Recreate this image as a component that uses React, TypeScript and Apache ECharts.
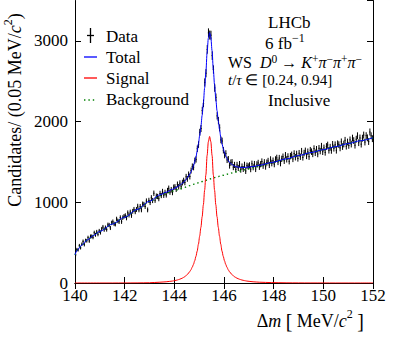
import React, { useEffect, useRef } from 'react';
import * as echarts from 'echarts';

const FONT = 'Liberation Serif';

// Histogram: bin width 0.05 MeV, first bin centre 140.025
const binStart = 140.025;
const binWidth = 0.05;
const dataCounts = [
  350, 415, 410, 463, 436, 480, 516, 475, 526, 523, 562, 521, 577, 578, 566, 623, 597, 633, 603, 645,
  625, 669, 693, 660, 686, 662, 721, 718, 682, 744, 759, 732, 728, 793, 769, 759, 810, 760, 810, 826,
  835, 805, 870, 841, 879, 836, 888, 912, 882, 911, 951, 906, 948, 906, 978, 974, 948, 1016, 906, 1024,
  997, 1056, 1022, 1112, 1025, 1076, 1072, 1045, 1109, 1084, 1133, 1087, 1122, 1091, 1145, 1173, 1126, 1156, 1121, 1186,
  1190, 1162, 1222, 1192, 1237, 1193, 1244, 1269, 1246, 1316, 1290, 1345, 1319, 1393, 1443, 1434, 1515, 1531, 1663, 1715,
  1867, 1914, 2137, 2225, 2485, 2599, 2894, 3099, 3072, 3070, 2817, 2645, 2418, 2300, 2071, 2012, 1922, 1773, 1759, 1645,
  1585, 1605, 1525, 1534, 1455, 1492, 1497, 1436, 1463, 1408, 1463, 1425, 1473, 1404, 1443, 1413, 1464, 1388, 1454, 1444,
  1458, 1410, 1478, 1434, 1474, 1412, 1470, 1488, 1439, 1472, 1505, 1452, 1496, 1442, 1492, 1512, 1462, 1531, 1484, 1516,
  1472, 1531, 1550, 1499, 1548, 1484, 1538, 1565, 1514, 1583, 1532, 1568, 1508, 1572, 1588, 1537, 1604, 1558, 1599, 1543,
  1608, 1564, 1633, 1556, 1610, 1637, 1574, 1626, 1565, 1645, 1627, 1599, 1665, 1613, 1657, 1598, 1669, 1635, 1695, 1626,
  1674, 1618, 1692, 1710, 1644, 1683, 1642, 1718, 1669, 1713, 1644, 1725, 1714, 1673, 1749, 1690, 1722, 1768, 1694, 1747,
  1704, 1773, 1721, 1795, 1764, 1707, 1781, 1824, 1738, 1797, 1720, 1794, 1833, 1746, 1825, 1798, 1752, 1871, 1824, 1788,
];

// Fit model
const curveX = [
  140.0, 140.1, 140.25, 140.5, 140.75, 141.0, 141.5, 142.0, 142.5, 143.0, 143.42, 143.67, 143.92,
  144.02, 144.12, 144.22, 144.32, 144.42, 144.52, 144.62, 144.67, 144.72, 144.77, 144.82, 144.87,
  144.92, 144.97, 145.02, 145.07, 145.12, 145.17, 145.22, 145.27, 145.32, 145.37, 145.42, 145.47,
  145.52, 145.57, 145.62, 145.67, 145.72, 145.77, 145.82, 145.87, 145.92, 145.97, 146.02, 146.07,
  146.12, 146.17, 146.22, 146.32, 146.42, 146.52, 146.62, 146.72, 146.82, 146.92, 147.17, 147.42,
  147.92, 148.5, 149.0, 149.5, 150.0, 150.5, 151.0, 151.5, 152.0,
];
const signalY = [
  0, 0, 0, 0, 0, 0, 0, 0.5, 1, 3, 10, 15, 24,
  30, 37, 47, 60, 78, 105, 140, 165, 195, 230, 275, 330,
  395, 480, 580, 690, 820, 970, 1150, 1340, 1580, 1750, 1815, 1750,
  1580, 1340, 1150, 970, 820, 690, 580, 480, 395, 330, 275, 230,
  195, 165, 140, 105, 78, 60, 47, 37, 30, 24, 15, 10,
  5, 2, 1, 0.5, 0.3, 0, 0, 0, 0,
];
const backgroundY = [
  350, 410, 465, 535, 590, 640, 730, 815, 910, 1010, 1082, 1110, 1136,
  1145, 1155, 1165, 1175, 1185, 1197, 1207, 1212, 1217, 1222, 1227, 1232,
  1237, 1242, 1247, 1252, 1257, 1262, 1267, 1272, 1277, 1282, 1287, 1292,
  1297, 1302, 1306, 1310, 1314, 1318, 1322, 1326, 1330, 1335, 1340, 1344,
  1348, 1352, 1356, 1363, 1371, 1379, 1387, 1394, 1402, 1410, 1428, 1448,
  1488, 1535, 1578, 1615, 1652, 1690, 1727, 1763, 1800,
];

const xTicks = { min: 140, max: 152, interval: 2 };
const yTicks = { min: 0, max: 3500, interval: 1000 };

const legendLabels = ['Data', 'Total', 'Signal', 'Background'];
const COLORS = { data: '#000000', total: '#0000ff', signal: '#ff0000', background: '#008000' };

export default function App() {
  const ref = useRef<HTMLDivElement>(null);

  useEffect(() => {
    if (!ref.current) return;
    const chart = echarts.init(ref.current, undefined, { renderer: 'svg' });

    const dataPoints = dataCounts.map((c, i) => [binStart + i * binWidth, c, Math.sqrt(c)]);
    const sig = curveX.map((x, i) => [x, signalY[i]]);
    const bkg = curveX.map((x, i) => [x, backgroundY[i]]);
    const tot = curveX.map((x, i) => [x, signalY[i] + backgroundY[i]]);

    const mkRich = (size: number, supSize: number, lh: number) => ({
      n: { fontFamily: FONT, fontSize: size, lineHeight: lh, fill: '#000', color: '#000' },
      i: { fontFamily: FONT, fontSize: size, fontStyle: 'italic', lineHeight: lh, fill: '#000', color: '#000' },
      s: { fontFamily: FONT, fontSize: supSize, lineHeight: supSize, verticalAlign: 'top', fill: '#000', color: '#000' },
      b: { fontFamily: FONT, fontSize: size + 2, lineHeight: lh, fill: '#000', color: '#000' },
    });
    const rich17 = mkRich(17, 12, 17);
    const rich17s = mkRich(17, 12, 22);
    const rich18 = mkRich(18, 12, 26);
    const rich16 = mkRich(16, 11.5, 18);
    const rich15 = mkRich(15, 11, 17);

    const txt = (x: number, y: number, text: string, rich: any, align = 'left', extra: any = {}) => ({
      type: 'text',
      x,
      y,
      z: 100,
      ...extra,
      style: {
        fontFamily: FONT,
        fontSize: 17,
        fill: '#000',
        text,
        rich,
        align,
        textAlign: align,
        verticalAlign: 'middle',
        textVerticalAlign: 'middle',
      },
    });

    const legendY = [36, 57, 78, 99];

    const graphic: any[] = [
      // legend symbols
      { type: 'line', z: 100, shape: { x1: 90.5, y1: 28, x2: 90.5, y2: 43 }, style: { stroke: COLORS.data, lineWidth: 1.3 } },
      { type: 'line', z: 100, shape: { x1: 87, y1: 35.5, x2: 94, y2: 35.5 }, style: { stroke: COLORS.data, lineWidth: 1.3 } },
      { type: 'line', z: 100, shape: { x1: 84, y1: 57, x2: 97, y2: 57 }, style: { stroke: COLORS.total, lineWidth: 1.3 } },
      { type: 'line', z: 100, shape: { x1: 84, y1: 78, x2: 97, y2: 78 }, style: { stroke: COLORS.signal, lineWidth: 1.3 } },
      { type: 'line', z: 100, shape: { x1: 84, y1: 100, x2: 97, y2: 100 }, style: { stroke: COLORS.background, lineWidth: 1.4, lineDash: [1.4, 3] } },
      ...legendLabels.map((l, i) => txt(106, legendY[i], `{n|${l}}`, rich17)),
      // annotations
      txt(268, 22, '{n|LHCb}', rich17),
      txt(265, 43, '{n|6 fb}{s|−1}', rich17s),
      txt(228, 62, '{n|WS  }{i|D}{s|0}{n| → }{i|K}{s|+}{i|π}{s|−}{i|π}{s|+}{i|π}{s|−}', rich16),
      txt(228, 80, '{i|t}{n|/}{i|τ}{n| ∈ [0.24, 0.94]}', rich15),
      txt(268, 100, '{n|Inclusive}', rich17),
      // axis titles
      txt(364, 321, '{n|Δ}{i|m}{n| }{b|[}{n| MeV/}{i|c}{s|2}{n| }{b|]}', rich18, 'right'),
      txt(15, 110, '{n|Candidates/ (0.05 MeV/}{i|c}{s|2}{n|)}', rich18, 'center', { rotation: Math.PI / 2 }),
    ];

    const axisLine = { show: true, lineStyle: { color: '#000', width: 1 } };
    const axisTick = { show: true, inside: true, length: 6, lineStyle: { color: '#000', width: 1 } };
    const labelRich = { t: { fontFamily: FONT, fontSize: 17, color: '#000', lineHeight: 14 } };

    chart.setOption({
      animation: false,
      backgroundColor: '#ffffff',
      textStyle: { fontFamily: FONT, fontSize: 17, color: '#000' },
      grid: { left: 75, right: 20, top: 0.5, bottom: 56, containLabel: false },
      xAxis: [
        {
          type: 'value',
          position: 'bottom',
          ...xTicks,
          axisLine,
          axisTick,
          splitLine: { show: false },
          axisLabel: {
            color: '#000', fontFamily: FONT, fontSize: 17, margin: 5,
            formatter: (v: number) => `{t|${v}}`,
            rich: labelRich,
          },
        },
        {
          type: 'value',
          position: 'top',
          ...xTicks,
          axisLine,
          axisTick,
          splitLine: { show: false },
          axisLabel: { show: false },
        },
      ],
      yAxis: [
        {
          type: 'value',
          position: 'left',
          ...yTicks,
          axisLine,
          axisTick,
          splitLine: { show: false },
          axisLabel: {
            color: '#000', fontFamily: FONT, fontSize: 17, margin: 7, showMaxLabel: false,
            formatter: (v: number) => `{t|${v}}`,
            rich: labelRich,
          },
        },
        {
          type: 'value',
          position: 'right',
          ...yTicks,
          axisLine,
          axisTick,
          splitLine: { show: false },
          axisLabel: { show: false },
        },
      ],
      series: [
        {
          type: 'custom',
          name: 'Data',
          xAxisIndex: 0,
          yAxisIndex: 0,
          clip: true,
          z: 2,
          data: dataPoints,
          renderItem: (_params: any, api: any) => {
            const x = api.value(0);
            const y = api.value(1);
            const e = api.value(2);
            const top = api.coord([x, y + e]);
            const bot = api.coord([x, y - e]);
            const l = api.coord([x - binWidth / 2, y]);
            const r = api.coord([x + binWidth / 2, y]);
            return {
              type: 'group',
              children: [
                { type: 'line', shape: { x1: top[0], y1: top[1], x2: bot[0], y2: bot[1] }, style: { stroke: COLORS.data, lineWidth: 1 } },
                { type: 'line', shape: { x1: l[0], y1: l[1], x2: r[0], y2: r[1] }, style: { stroke: COLORS.data, lineWidth: 1 } },
              ],
            };
          },
        },
        {
          type: 'line',
          name: 'Background',
          z: 3,
          data: bkg,
          showSymbol: false,
          smooth: 0.3,
          smoothMonotone: 'x',
          lineStyle: { color: COLORS.background, width: 1.4, type: [1.4, 3] },
        },
        {
          type: 'line',
          name: 'Total',
          z: 4,
          data: tot,
          showSymbol: false,
          smooth: 0.3,
          smoothMonotone: 'x',
          lineStyle: { color: COLORS.total, width: 1 },
        },
        {
          type: 'line',
          name: 'Signal',
          z: 5,
          data: sig,
          showSymbol: false,
          smooth: 0.3,
          smoothMonotone: 'x',
          lineStyle: { color: COLORS.signal, width: 1 },
        },
      ],
      graphic,
    });

    return () => chart.dispose();
  }, []);

  return <div ref={ref} style={{ position: 'fixed', left: 0, top: 0, width: 393, height: 339, background: '#fff' }} />;
}
